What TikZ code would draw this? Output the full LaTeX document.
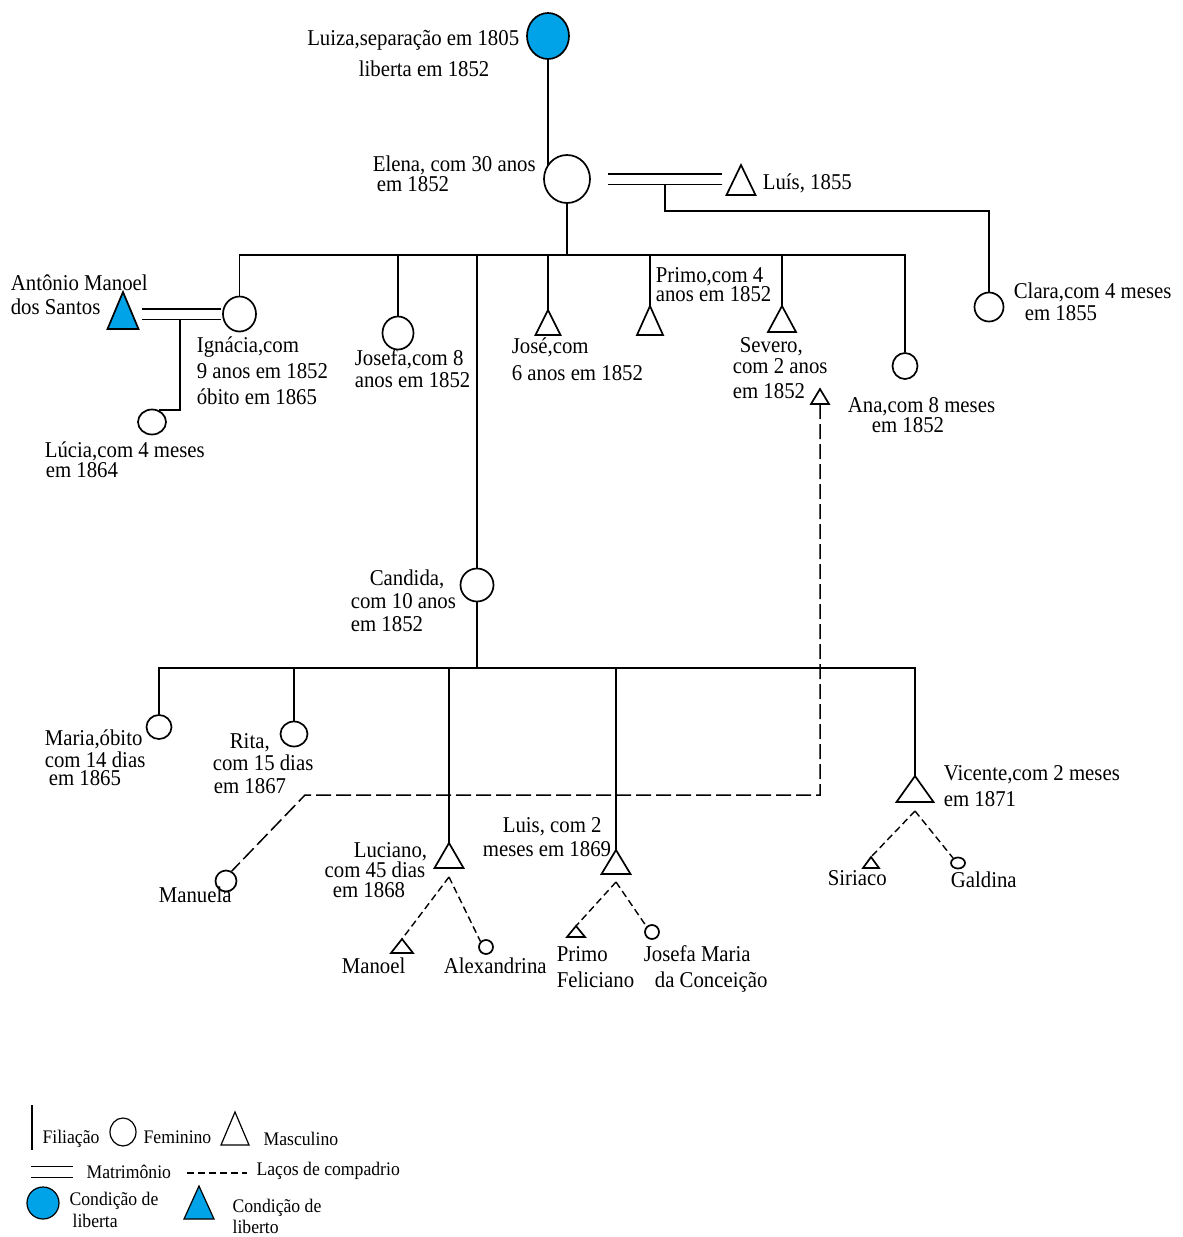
\documentclass[tikz,border=0pt]{standalone}
\usepackage{fontspec}
\setmainfont{Liberation Serif}[FakeStretch=0.92]
\usetikzlibrary{shapes.geometric}
\definecolor{libblue}{RGB}{0,162,232}
\newcommand{\mtri}[6]{\coordinate (#1) at (#2,#3); \coordinate (#1b) at (#2,#3+#5);
  \draw[fill=#6] (#1) -- ++(#4,#5) -- ++(-2*#4,0) -- cycle;}
\begin{document}
\begin{tikzpicture}[x=1pt,y=-1pt,line width=1.7pt,
  fem/.style={draw,ellipse,inner sep=0pt},
  lbl/.style={inner sep=0pt,font=\fontsize{22.6}{22}\selectfont,anchor=base west},
  lble/.style={lbl,anchor=base east},
  leg/.style={inner sep=0pt,font=\fontsize{19.2}{21}\selectfont,anchor=base west},
  marr/.style={double,double distance=9pt},
  comp/.style={line width=1.5pt,dash pattern=on 15pt off 5pt},
  compb/.style={line width=1.4pt,dash pattern=on 7pt off 4pt}]
\fill[white] (0,0) rectangle (1183,1237);
\useasboundingbox (0,0) rectangle (1183,1237);
\coordinate (b1) at (0,255);
\coordinate (b2) at (0,668);
% --- people ---
\node[fem,fill=libblue,minimum width=42pt,minimum height=46pt] (luiza) at (548,36) {};
\node[fem,minimum width=46pt,minimum height=48pt] (elena) at (567,179) {};
\mtri{luis}{741}{165}{14.5}{30}{white}
\node[fem,minimum width=29pt,minimum height=29pt] (clara) at (989,307) {};
\node[fem,minimum width=33pt,minimum height=35pt] (ignacia) at (239.5,314) {};
\mtri{antonio}{123}{292}{15.5}{37}{libblue}
\node[fem,minimum width=28pt,minimum height=25pt] (lucia) at (152,422) {};
\node[fem,minimum width=31pt,minimum height=33pt] (josefa) at (398,333) {};
\mtri{jose}{548}{310}{12.5}{25}{white}
\mtri{primo}{650}{306}{13}{29}{white}
\mtri{severo}{782}{306}{14}{26}{white}
\mtri{sevs}{820}{389}{9}{15}{white}
\node[fem,minimum width=25pt,minimum height=26pt] (ana) at (905,366) {};
\node[fem,minimum width=33pt,minimum height=33pt] (candida) at (477,585) {};
\node[fem,minimum width=25pt,minimum height=24pt] (maria) at (159,727) {};
\node[fem,minimum width=27pt,minimum height=25pt] (rita) at (294,734) {};
\mtri{luciano}{449}{843}{14.5}{25}{white}
\mtri{luisc}{616}{850}{14.5}{24}{white}
\mtri{vicente}{915}{776}{18.5}{26}{white}
\node[fem,minimum width=21pt,minimum height=21pt] (manuela) at (226,881) {};
\mtri{manoel}{402}{939}{11}{14}{white}
\node[fem,minimum width=14pt,minimum height=14pt] (alex) at (486,947) {};
\mtri{primof}{576}{926}{9}{11}{white}
\node[fem,minimum width=14pt,minimum height=14pt] (josefam) at (652,932) {};
\mtri{siriaco}{871}{857}{8}{11}{white}
\node[fem,minimum width=14pt,minimum height=11pt] (galdina) at (958,863) {};
% --- filiation ---
\draw[line width=1.2pt] (luiza.south) -- (luiza.south |- elena.145);
\draw (elena.south) -- (elena.south |- b1);
\draw (ignacia.north) -- (ignacia.north |- b1) -- (ana.north |- b1) -- (ana.north);
\draw (josefa.north) -- (josefa.north |- b1);
\draw (candida.north) -- (candida.north |- b1);
\draw (jose) -- (jose |- b1);
\draw (primo) -- (primo |- b1);
\draw (severo) -- (severo |- b1);
\draw[marr] ([xshift=17pt]elena.east) -- ([xshift=-19pt]luis |- elena.east);
\coordinate (mel) at (665,184.5);
\draw (mel) -- (665,211) -- (clara.north |- 0,211) -- (clara.north);
\draw[marr] ([xshift=19pt]antonio |- ignacia.west) -- ([xshift=-1pt]ignacia.west);
\coordinate (mai) at (180,319);
\draw (mai) |- (lucia.60);
\draw (candida.south) -- (candida.south |- b2);
\draw (maria.north) -- (maria.north |- b2) -- (vicente |- b2) -- (vicente);
\draw (rita.north) -- (rita.north |- b2);
\draw (luciano) -- (luciano |- b2);
\draw (luisc) -- (luisc |- b2);
% --- compadrio ---
\coordinate (cc) at (305,795);
\draw[comp] (sevsb) -- (sevsb |- cc) -- (cc) -- (manuela.60);
\draw[compb] ([yshift=-9pt]lucianob) -- (manoel);
\draw[compb] ([yshift=-9pt]lucianob) -- (alex.135);
\draw[compb] ([yshift=-8pt]luiscb) -- (primof);
\draw[compb] ([yshift=-8pt]luiscb) -- (josefam.135);
\draw[compb] ([yshift=-9pt]vicenteb) -- (siriaco);
\draw[compb] ([yshift=-9pt]vicenteb) -- (galdina.135);
% --- labels ---
\node[lble] (t1) at (520,45) {Luiza,separação em 1805};
\node[lbl] (t2) at (358,76) {liberta em 1852};
\node[lbl] (t3) at (372,171) {Elena, com 30 anos};
\node[lbl] (t4) at (376,191) {em 1852};
\node[lbl] (t5) at (762,189) {Luís, 1855};
\node[lbl] (t6) at (1013,298) {Clara,com 4 meses};
\node[lbl] (t7) at (1024,320) {em 1855};
\node[lbl] (t8) at (10,290) {Antônio Manoel};
\node[lbl] (t9) at (10,314) {dos Santos};
\node[lbl] (t10) at (196,352) {Ignácia,com};
\node[lbl] (t11) at (196,378) {9 anos em 1852};
\node[lbl] (t12) at (196,404) {óbito em 1865};
\node[lbl] (t13) at (44,457) {Lúcia,com 4 meses};
\node[lbl] (t14) at (45,477) {em 1864};
\node[lbl] (t15) at (354,365) {Josefa,com 8};
\node[lbl] (t16) at (354,387) {anos em 1852};
\node[lbl] (t17) at (511,353) {José,com};
\node[lbl] (t18) at (511,380) {6 anos em 1852};
\node[lbl] (t19) at (655,282) {Primo,com 4};
\node[lbl] (t20) at (655,301) {anos em 1852};
\node[lbl] (t21) at (739,352) {Severo,};
\node[lbl] (t22) at (732,373) {com 2 anos};
\node[lbl] (t23) at (732,398) {em 1852};
\node[lbl] (t24) at (847,412) {Ana,com 8 meses};
\node[lbl] (t25) at (871,432) {em 1852};
\node[lbl] (t26) at (369,585) {Candida,};
\node[lbl] (t27) at (350,608) {com 10 anos};
\node[lbl] (t28) at (350,631) {em 1852};
\node[lbl] (t29) at (44,745) {Maria,óbito};
\node[lbl] (t30) at (44,767) {com 14 dias};
\node[lbl] (t31) at (48,785) {em 1865};
\node[lbl] (t32) at (229,748) {Rita,};
\node[lbl] (t33) at (212,770) {com 15 dias};
\node[lbl] (t34) at (213,793) {em 1867};
\node[lble] (t35) at (428,857) {Luciano,};
\node[lble] (t36) at (426,877) {com 45 dias};
\node[lbl] (t37) at (332,897) {em 1868};
\node[lbl] (t38) at (502,832) {Luis, com 2};
\node[lbl] (t39) at (482,856) {meses em 1869};
\node[lbl] (t40) at (943,780) {Vicente,com 2 meses};
\node[lbl] (t41) at (943,806) {em 1871};
\node[lbl] (t42) at (158,902) {Manuela};
\node[lbl] (t43) at (341,973) {Manoel};
\node[lbl] (t44) at (443,973) {Alexandrina};
\node[lbl] (t45) at (556,961) {Primo};
\node[lbl] (t46) at (556,987) {Feliciano};
\node[lbl] (t47) at (643,961) {Josefa Maria};
\node[lbl] (t48) at (654,987) {da Conceição};
\node[lbl] (t49) at (827,885) {Siriaco};
\node[lbl] (t50) at (950,887) {Galdina};
% --- legend ---
\begin{scope}[line width=1.2pt]
\draw (32,1105) -- (32,1150);
\node[leg] (g1) at (42,1143) {Filiação};
\node[fem,minimum width=26pt,minimum height=28pt] (gfem) at (123,1132) {};
\node[leg] (g2) at (143,1143) {Feminino};
\mtri{gmasc}{235}{1112}{14}{33}{white}
\node[leg] (g3) at (263,1145) {Masculino};
\draw[double,double distance=10pt] (31,1172) -- (73,1172);
\node[leg] (g4) at (86,1178) {Matrimônio};
\draw[dash pattern=on 7pt off 4pt] (187,1173) -- (247,1173);
\node[leg] (g5) at (256,1175) {Laços de compadrio};
\node[fem,fill=libblue,minimum width=32pt,minimum height=32pt] (gblue) at (43,1203) {};
\node[leg] (g6) at (69,1205) {Condição de};
\node[leg] (g7) at (72,1227) {liberta};
\mtri{gbtri}{199}{1186}{15}{33}{libblue}
\node[leg] (g8) at (232,1212) {Condição de};
\node[leg] (g9) at (232,1233) {liberto};
\end{scope}
\end{tikzpicture}
\end{document}
